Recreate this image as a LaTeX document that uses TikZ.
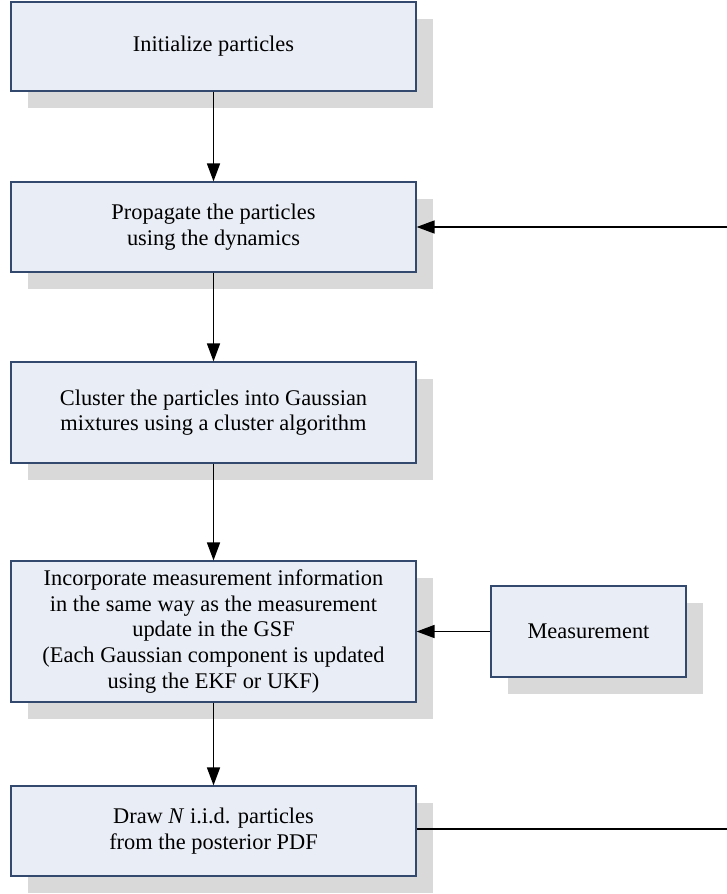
\documentclass[tikz,border=0pt]{standalone}
\usepackage{fontspec}
\setmainfont{Liberation Serif}
\usetikzlibrary{shadows,arrows.meta}
\definecolor{boxfill}{HTML}{E9EDF5}
\definecolor{boxline}{HTML}{34496E}
\definecolor{shadowgray}{HTML}{D9D9D9}
\tikzset{
  procbox/.style={draw=boxline, line width=1.2pt, fill=boxfill, rectangle,
    align=center, inner sep=2pt,
    font=\fontsize{22.4}{25.6}\selectfont,
    drop shadow={shadow xshift=16.5pt, shadow yshift=-16.5pt, fill=shadowgray, opacity=1}},
  conn/.style={line width=1.6pt, -{Triangle[length=18pt,width=13pt]}},
  plainconn/.style={line width=1.6pt}
}
\begin{document}
\begin{tikzpicture}[x=1pt,y=-1pt]
\useasboundingbox (0,0) rectangle (727,894);
\node[procbox, minimum width=405pt, minimum height=89pt] (b1) at (213.5,46.5) {Initialize particles};
\node[procbox, minimum width=405pt, minimum height=90pt] (b2) at (213.5,227) {Propagate the particles\\using the dynamics};
\node[procbox, minimum width=405pt, minimum height=101pt] (b3) at (213.5,412.5) {Cluster the particles into Gaussian\\mixtures using a cluster algorithm};
\node[procbox, minimum width=405pt, minimum height=141pt] (b4) at (213.5,631.5) {Incorporate measurement information\\in the same way as the measurement\\update in the GSF\\(Each Gaussian component is updated\\using the EKF or UKF)};
\node[procbox, minimum width=405pt, minimum height=90pt] (b5) at (213.5,831) {Draw \textit{N} i.i.d. particles\\from the posterior PDF};
\node[procbox, minimum width=195pt, minimum height=91pt] (m) at (588.5,631.5) {Measurement};
\coordinate (r1) at (727,227);
\coordinate (r2) at (727,829);
\draw[conn] (b1) -- (b2);
\draw[conn] (b2) -- (b3);
\draw[conn] (b3) -- (b4);
\draw[conn] (b4) -- (b5);
\draw[conn] (m) -- (b4);
\draw[conn] (r1) -- (b2.east |- r1);
\draw[plainconn] (b5.east |- r2) -- (r2);
\end{tikzpicture}
\end{document}
